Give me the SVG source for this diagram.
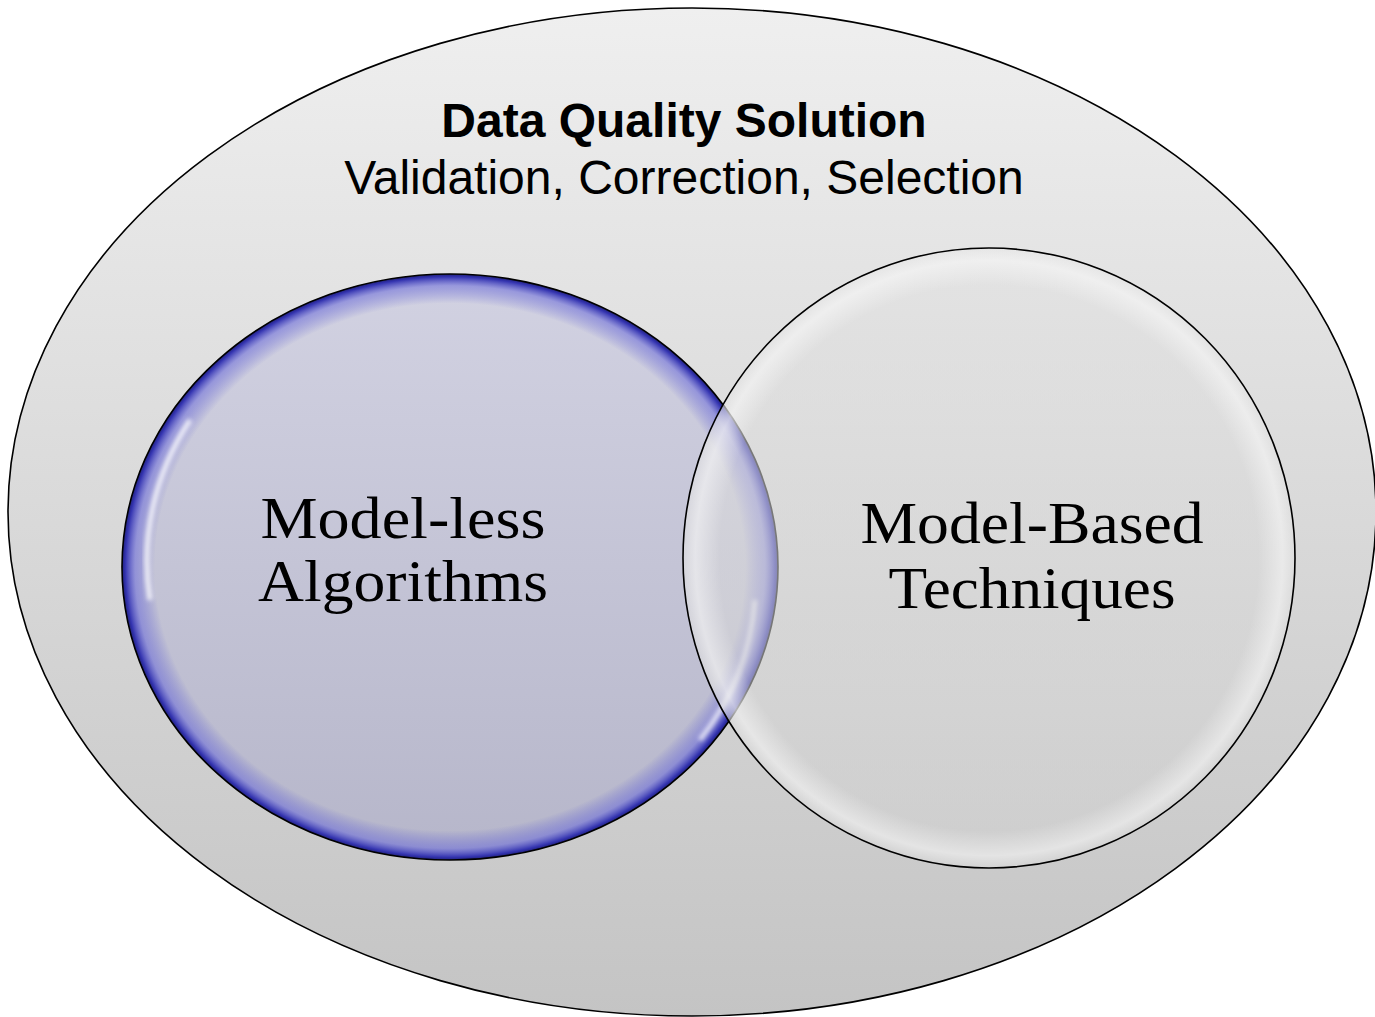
<svg xmlns="http://www.w3.org/2000/svg" width="1375" height="1017" viewBox="0 0 1375 1017">
  <defs>
    <linearGradient id="outerFill" x1="0" y1="0" x2="0" y2="1">
      <stop offset="0" stop-color="#efefef"/>
      <stop offset="1" stop-color="#c4c4c4"/>
    </linearGradient>
    <linearGradient id="leftFill" x1="0" y1="0" x2="0" y2="1">
      <stop offset="0" stop-color="#d2d2e2"/>
      <stop offset="1" stop-color="#b6b6ca"/>
    </linearGradient>
    <radialGradient id="leftRim" cx="0.5" cy="0.5" r="0.5">
      <stop offset="0.90" stop-color="#5050d0" stop-opacity="0"/>
      <stop offset="0.96" stop-color="#6a6ad8" stop-opacity="0.55"/>
      <stop offset="0.99" stop-color="#3434b0" stop-opacity="1"/>
      <stop offset="1" stop-color="#20207a" stop-opacity="1"/>
    </radialGradient>
    <linearGradient id="rightFill" x1="0" y1="0" x2="0" y2="1">
      <stop offset="0" stop-color="#e2e2e2" stop-opacity="0.55"/>
      <stop offset="1" stop-color="#d0d0d0" stop-opacity="0.55"/>
    </linearGradient>
    <radialGradient id="rightRim" cx="0.5" cy="0.5" r="0.5">
      <stop offset="0.88" stop-color="#ffffff" stop-opacity="0"/>
      <stop offset="0.96" stop-color="#ffffff" stop-opacity="0.45"/>
      <stop offset="1" stop-color="#ffffff" stop-opacity="0.1"/>
    </radialGradient>
    <filter id="soft" x="-10%" y="-10%" width="120%" height="120%">
      <feGaussianBlur stdDeviation="2"/>
    </filter>
  </defs>
  <style>
    .title { font-family: "Liberation Sans", Arial, sans-serif; font-size: 48px; fill: #000; text-anchor: middle; }
    .label { font-family: "Liberation Serif", "Times New Roman", serif; font-size: 60px; fill: #000; text-anchor: middle; }
    .edge { stroke: #000; stroke-width: 1.6; }
  </style>

  <!-- outer set: the whole solution -->
  <g id="solution">
    <ellipse cx="692" cy="512" rx="684" ry="504" fill="url(#outerFill)" class="edge"/>
    <text class="title" x="684" y="137" font-weight="bold">Data Quality Solution</text>
    <text class="title" x="684" y="194">Validation, Correction, Selection</text>
  </g>

  <!-- left set -->
  <g id="model-less">
    <ellipse cx="450" cy="567" rx="328" ry="293" fill="url(#leftFill)"/>
    <ellipse cx="450" cy="567" rx="328" ry="293" fill="url(#leftRim)"/>
    <path d="M 190 420 A 312 278 0 0 0 150 600" fill="none" stroke="#ffffff" stroke-width="5" stroke-opacity="0.8" filter="url(#soft)"/>
    <path d="M 755 600 A 312 278 0 0 1 700 740" fill="none" stroke="#ffffff" stroke-width="5" stroke-opacity="0.7" filter="url(#soft)"/>
    <ellipse cx="450" cy="567" rx="328" ry="293" fill="none" class="edge"/>
    <text class="label" x="403" y="538" textLength="285" lengthAdjust="spacingAndGlyphs">Model-less</text>
    <text class="label" x="403" y="601" textLength="290" lengthAdjust="spacingAndGlyphs">Algorithms</text>
  </g>

  <!-- right set -->
  <g id="model-based">
    <ellipse cx="989" cy="558" rx="306" ry="310" fill="url(#rightFill)"/>
    <ellipse cx="989" cy="558" rx="306" ry="310" fill="url(#rightRim)"/>
    <ellipse cx="989" cy="558" rx="306" ry="310" fill="none" class="edge"/>
    <text class="label" x="1032" y="543" textLength="343" lengthAdjust="spacingAndGlyphs">Model-Based</text>
    <text class="label" x="1032" y="608" textLength="287" lengthAdjust="spacingAndGlyphs">Techniques</text>
  </g>

  <g id="connectors"/>
</svg>
